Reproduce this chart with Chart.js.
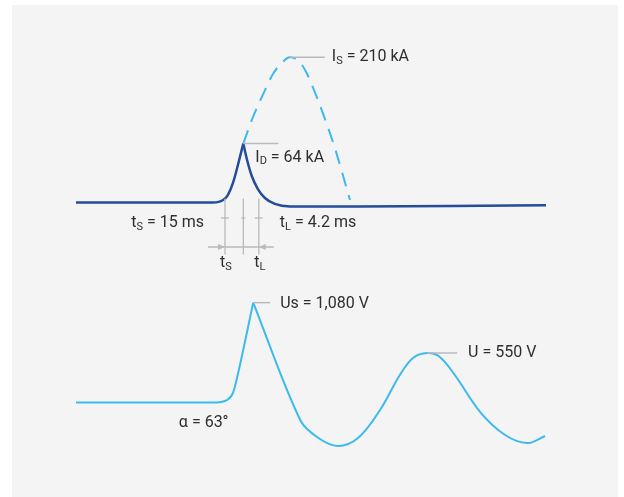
<!DOCTYPE html>
<html><head><meta charset="utf-8">
<script src="https://cdn.jsdelivr.net/npm/chart.js@4/dist/chart.umd.min.js"></script>
<style>
html,body{margin:0;padding:0;background:#fff;}
#wrap{position:relative;width:624px;height:497px;}
#panel{position:absolute;left:12px;top:5px;width:606px;height:492px;background:#f4f4f4;}
canvas{position:absolute;left:0;top:0;}
</style></head><body>
<div id="wrap"><div id="panel"></div><canvas id="c" width="624" height="497"></canvas></div>
<script>
// relative time axis (0..100), schematic amplitudes
const currentRiseT  = [0, 29.1, 31.3, 32.3, 33.4, 35.6];
const currentRiseKA = [0, 0, 2.7, 8.1, 21.2, 64];
const currentDecayT  = [35.6, 36.4, 37.4, 38.7, 40.2, 42.3, 45.5, 60, 80, 100];
const currentDecayKA = [64, 46.2, 28.8, 14.6, 4.9, -1.6, -4.4, -4.3, -3.8, -3.1];
const surgeT  = [35.6, 37.4, 39.9, 42.0, 43.4, 45.5, 47.7, 49.1, 51.2, 53.3, 55.1, 58.3];
const surgeKA = [64, 89.6, 118.6, 140.4, 149.4, 157.7, 151.9, 140.4, 114.9, 86, 58.9, 2.7];
const voltRiseT = [0, 22.1, 29.1, 32.1, 33.4, 34.5, 37.7];
const voltRiseV = [0, 0, 0, 28, 104, 320, 1080];
const voltFallT = [37.7, 47.7, 51.5, 55.7, 60.0, 64.7, 68.9, 71.7, 74.7, 77.4, 80.6, 86.0, 91.3, 96.0, 99.8];
const voltFallV = [1080, -188, -380, -469, -383, -80, 298, 482, 536, 493, 298, -102, -350, -437, -361];
const timeMarkers = [31.7, 35.6, 38.9]; // start of rise, peak, end of decay
const labels = {
  is: ['I', 'S', ' = 210 kA'],
  id: ['I', 'D', ' = 64 kA'],
  ts: ['t', 'S', ' = 15 ms'],
  tl: ['t', 'L', ' = 4.2 ms'],
  us: 'Us = 1,080 V',
  u: 'U = 550 V',
  alpha: 'α = 63°'
};

const DARK = '#234c99', LIGHT = '#3cb9ed', GRAY = '#bababa', TXT = '#2e2e2e';
const pts = (xs, ys) => xs.map((x, i) => ({x, y: ys[i]}));

function drawSub(c, x, y, parts, align) {
  const fm = '16px Roboto', fs = '11px Roboto';
  const segs = [[parts[0], fm, 0], [parts[1], fs, 4], [parts[2], fm, 0]];
  let w = 0;
  segs.forEach(s => { c.font = s[1]; w += c.measureText(s[0]).width; });
  let cx = align === 'right' ? x - w : align === 'center' ? x - w / 2 : x;
  segs.forEach(s => { c.font = s[1]; c.fillText(s[0], cx, y + s[2]); cx += c.measureText(s[0]).width; });
}
function hline(c, x1, x2, y) { c.beginPath(); c.moveTo(x1, y); c.lineTo(x2, y); c.stroke(); }
function vline(c, x, y1, y2) { c.beginPath(); c.moveTo(x, y1); c.lineTo(x, y2); c.stroke(); }

const annot = {
  id: 'annot',
  afterDatasetsDraw(chart) {
    const c = chart.ctx, X = chart.scales.x, YI = chart.scales.yI, YU = chart.scales.yU;
    c.save();
    c.strokeStyle = GRAY; c.lineWidth = 1.5;
    c.fillStyle = TXT; c.textBaseline = 'middle'; c.textAlign = 'left';
    // I_S
    const iS = surgeKA.indexOf(Math.max(...surgeKA));
    const sx = X.getPixelForValue(surgeT[iS]), sy = YI.getPixelForValue(surgeKA[iS]);
    hline(c, sx, sx + 35, sy);
    drawSub(c, sx + 42, sy, labels.is);
    // I_D
    const iD = currentRiseKA.length - 1;
    const dx = X.getPixelForValue(currentRiseT[iD]), dy = YI.getPixelForValue(currentRiseKA[iD]);
    hline(c, dx, dx + 35, dy);
    drawSub(c, dx + 12, dy + 14, labels.id);
    // time markers
    const base = YI.getPixelForValue(0);
    const mx = timeMarkers.map(t => X.getPixelForValue(t));
    c.lineWidth = 1.3;
    mx.forEach(x => vline(c, x, base - 4, base + 52));
    hline(c, mx[0] - 4, mx[0] + 4, base + 15.5);
    hline(c, mx[1] - 2, mx[1] + 2, base + 15.5);
    hline(c, mx[2] - 4, mx[2] + 4, base + 15.5);
    hline(c, mx[0] - 17, mx[2] + 15, base + 44.5);
    c.fillStyle = GRAY;
    c.beginPath(); c.moveTo(mx[0], base + 44.5); c.lineTo(mx[0] - 7, base + 41.5); c.lineTo(mx[0] - 7, base + 47.5); c.closePath(); c.fill();
    c.beginPath(); c.moveTo(mx[2], base + 44.5); c.lineTo(mx[2] + 7, base + 41.5); c.lineTo(mx[2] + 7, base + 47.5); c.closePath(); c.fill();
    c.fillStyle = TXT;
    drawSub(c, mx[0] - 21, base + 20.5, labels.ts, 'right');
    drawSub(c, mx[2] + 21, base + 20.5, labels.tl);
    drawSub(c, mx[0] + 1, base + 61, ['t', 'S', ''], 'center');
    drawSub(c, mx[2] + 1, base + 61, ['t', 'L', ''], 'center');
    // Voltage
    c.strokeStyle = GRAY; c.lineWidth = 1.5;
    const ux = X.getPixelForValue(voltRiseT[voltRiseT.length - 1]), uy = YU.getPixelForValue(voltRiseV[voltRiseV.length - 1]);
    hline(c, ux, ux + 17, uy);
    c.font = '16px Roboto';
    c.fillText(labels.us, ux + 27, uy + 1);
    const iU = voltFallV.indexOf(Math.max(...voltFallV.slice(3)));
    const ax = X.getPixelForValue(voltFallT[iU]), ay = YU.getPixelForValue(voltFallV[iU]);
    hline(c, ax, ax + 30, ay);
    c.fillText(labels.u, ax + 41, ay);
    const vb = YU.getPixelForValue(0);
    c.fillText(labels.alpha, X.getPixelForValue(voltRiseT[1]) - 1, vb + 20);
    c.restore();
  }
};

function make() {
  new Chart(document.getElementById('c'), {
    type: 'line',
    data: { datasets: [
      { data: pts(currentRiseT, currentRiseKA), yAxisID: 'yI', borderColor: DARK, borderWidth: 2.5, cubicInterpolationMode: 'monotone' },
      { data: pts(currentDecayT, currentDecayKA), yAxisID: 'yI', borderColor: DARK, borderWidth: 2.5, cubicInterpolationMode: 'monotone' },
      { data: pts(surgeT, surgeKA), yAxisID: 'yI', borderColor: LIGHT, borderWidth: 2, borderDash: [14, 9], cubicInterpolationMode: 'monotone' },
      { data: pts(voltRiseT, voltRiseV), yAxisID: 'yU', borderColor: LIGHT, borderWidth: 2, cubicInterpolationMode: 'monotone' },
      { data: pts(voltFallT, voltFallV), yAxisID: 'yU', borderColor: LIGHT, borderWidth: 2, tension: 0.35 }
    ]},
    options: {
      responsive: false, animation: false, devicePixelRatio: 1,
      layout: { padding: { left: 76, right: 78, top: 0, bottom: 0 } },
      plugins: { legend: { display: false }, tooltip: { enabled: false } },
      elements: { point: { radius: 0 }, line: { fill: false, borderJoinStyle: 'round' } },
      scales: {
        x: { type: 'linear', min: 0, max: 100, display: false },
        yI: { type: 'linear', position: 'left', min: -320, max: 220, display: false },
        yU: { type: 'linear', position: 'left', min: -1020, max: 4350, display: false }
      }
    },
    plugins: [annot]
  });
}
if (document.fonts && document.fonts.load) {
  document.fonts.load('16px Roboto').then(make, make);
} else make();
</script>
</body></html>
